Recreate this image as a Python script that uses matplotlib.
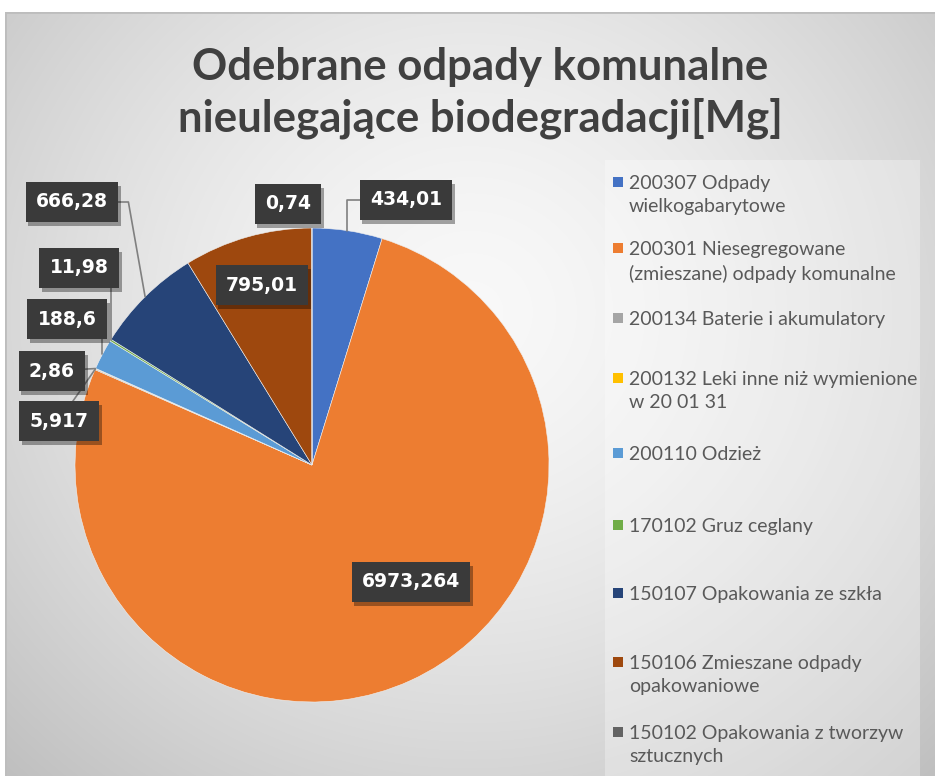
import numpy as np
import matplotlib.pyplot as plt
import matplotlib.patheffects as pe
from matplotlib.patches import Rectangle

# dane z wykresu
categories = [
    "200307 Odpady\nwielkogabarytowe",
    "200301 Niesegregowane\n(zmieszane) odpady komunalne",
    "200134 Baterie i akumulatory",
    "200132 Leki inne niż wymienione\nw 20 01 31",
    "200110 Odzież",
    "170102 Gruz ceglany",
    "150107 Opakowania ze szkła",
    "150106 Zmieszane odpady\nopakowaniowe",
    "150102 Opakowania z tworzyw\nsztucznych",
]
values = [434.01, 6973.264, 5.917, 2.86, 188.6, 11.98, 666.28, 795.01, 0.74]
colors = ["#4472C4", "#ED7D31", "#A5A5A5", "#FFC000", "#5B9BD5",
          "#70AD47", "#264478", "#9E480E", "#636363"]
title = "Odebrane odpady komunalne\nnieulegające biodegradacji[Mg]"

# pozycje etykiet (px od lewego gornego rogu) i styl linii odniesienia
label_pos = [(406, 200), (411, 582), (59, 421), (52, 371), (67, 319),
             (79, 268), (72, 202), (262, 285), (288, 204)]
label_conn = ["angle,angleA=0,angleB=90,rad=0", None, "arc3", "arc3",
              "angle,angleA=0,angleB=90,rad=0", "angle,angleA=0,angleB=90,rad=0",
              "angle,angleA=0,angleB=100,rad=0", None, None]
legend_y = [182, 248, 318, 378, 453, 525, 593, 662, 732]

W, H = 935, 776
fig = plt.figure(figsize=(W / 100, H / 100), dpi=100, facecolor="white")

# tlo z gradientem
bg = fig.add_axes([5 / W, 0, (W - 5) / W, (H - 12) / H], zorder=-10)
yy, xx = np.mgrid[0:764, 0:930]
d = np.hypot(xx - 465, (yy - 300) * 1.05) / 640
g = 0.975 - 0.21 * np.clip(d, 0, 1.2) ** 1.5
bg.imshow(np.dstack([g, g, g]), aspect="auto", extent=[0, 930, 764, 0])
bg.set_xlim(0, 930)
bg.set_ylim(764, 0)
bg.axis("off")
bg.plot([0, 0, 930], [764, 0, 0], color="#bdbdbd", lw=2)
bg.add_patch(Rectangle((600, 148), 315, 620, fc="white", alpha=0.3, ec="none"))

fig.text(480 / W, 1 - 93 / H, title, ha="center", va="center",
         fontsize=31.5, fontweight="bold", color="#404040",
         family="Lato", linespacing=1.32)

# kolo
cx, cy, r = 312, 465, 237
ax = fig.add_axes([(cx - r) / W, (H - cy - r) / H, 2 * r / W, 2 * r / H])
wedges, _ = ax.pie(values, colors=colors, startangle=90, counterclock=False,
                   wedgeprops=dict(linewidth=0.4, edgecolor="#f0f0f0"))
ax.set_xlim(-1, 1)
ax.set_ylim(-1, 1)
ax.axis("off")

for w, v, pos, conn in zip(wedges, values, label_pos, label_conn):
    ang = np.deg2rad((w.theta1 + w.theta2) / 2)
    txt = str(v).replace(".", ",")
    kw = {}
    if conn:
        kw["arrowprops"] = dict(arrowstyle="-", color="#808080", lw=1.2,
                                connectionstyle=conn, shrinkA=0, shrinkB=0)
    t = ax.annotate(txt, xy=(np.cos(ang), np.sin(ang)),
                    xytext=(pos[0], H - pos[1]), textcoords="figure pixels",
                    ha="center", va="center", fontsize=13.5, fontweight="bold",
                    color="white", family="DejaVu Sans", annotation_clip=False,
                    bbox=dict(boxstyle="square,pad=0.55", fc="#3a3a3a", ec="none"),
                    **kw)
    t.get_bbox_patch().set_path_effects(
        [pe.SimplePatchShadow(offset=(2, -3), shadow_rgbFace="black", alpha=0.35),
         pe.Normal()])

# legenda
for lab, col, y in zip(categories, colors, legend_y):
    fig.patches.append(Rectangle((613 / W, 1 - (y + 5) / H), 10 / W, 10 / H,
                                 transform=fig.transFigure, fc=col, ec="none"))
    fig.text(629 / W, 1 - (y - 7) / H, lab, ha="left", va="top", fontsize=14,
             color="#595959", family="Lato", linespacing=1.45)

fig.savefig("out.png", dpi=100, facecolor="white")
